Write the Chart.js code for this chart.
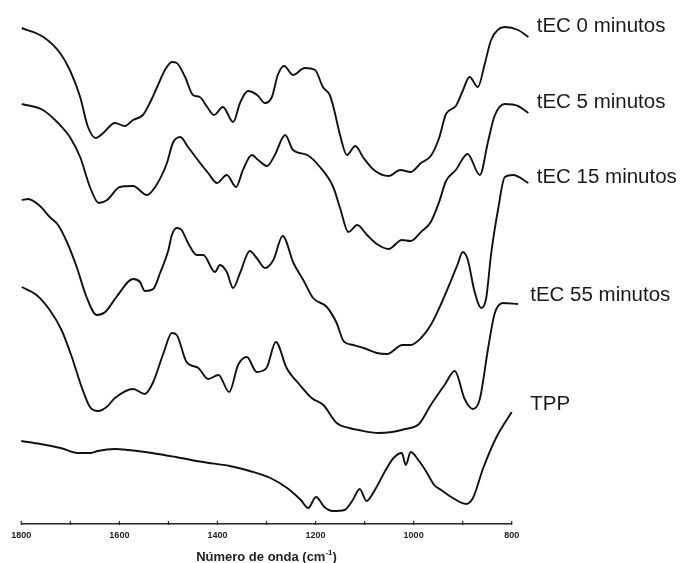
<!DOCTYPE html>
<html>
<head>
<meta charset="utf-8">
<script src="https://cdn.jsdelivr.net/npm/chart.js@4"></script>
<style>
  body { margin: 0; background: #fff; }
  canvas { display: block; }
</style>
</head>
<body>
<canvas id="espectros-ftir" width="683" height="563"></canvas>
<script>
// numero de onda (cm-1) e transmitancia (u.a., curvas deslocadas)
const onda0 = [1799, 1755, 1721, 1701, 1680, 1664, 1648, 1633, 1609, 1589, 1572, 1552, 1538, 1523, 1507, 1493, 1483, 1466, 1450, 1436, 1421, 1407, 1389, 1368, 1354, 1338, 1319, 1303, 1289, 1277, 1264, 1246, 1222, 1201, 1185, 1171, 1162, 1150, 1136, 1119, 1102, 1081, 1051, 1027, 1006, 985, 965, 948, 934, 914, 900, 886, 869, 855, 842, 814, 787, 766];
const tec0 = [496, 487, 471, 454, 427, 397, 386, 391, 401, 398, 404, 409, 421, 437, 454, 462, 461, 447, 429, 427, 417, 409, 417, 402, 421, 433, 429, 421, 427, 449, 458, 449, 456, 454, 437, 429, 414, 389, 369, 378, 366, 354, 348, 354, 352, 361, 368, 386, 410, 418, 433, 447, 437, 460, 484, 497, 494, 487];

const onda5 = [1799, 1756, 1725, 1701, 1680, 1660, 1642, 1625, 1599, 1572, 1544, 1527, 1503, 1491, 1476, 1460, 1440, 1419, 1401, 1381, 1362, 1348, 1330, 1317, 1299, 1283, 1262, 1246, 1217, 1191, 1164, 1150, 1133, 1115, 1095, 1075, 1051, 1024, 1006, 985, 965, 948, 934, 914, 890, 865, 848, 835, 814, 787, 766];
const tec5 = [420, 414, 401, 387, 367, 337, 321, 324, 337, 338, 329, 337, 361, 381, 387, 377, 364, 351, 341, 349, 337, 354, 369, 364, 358, 369, 389, 374, 369, 357, 337, 316, 292, 299, 289, 280, 275, 284, 283, 292, 302, 322, 343, 354, 370, 349, 383, 408, 420, 418, 411];

const onda15 = [1799, 1786, 1762, 1742, 1725, 1707, 1687, 1667, 1646, 1629, 1606, 1572, 1558, 1548, 1531, 1517, 1500, 1493, 1483, 1473, 1460, 1442, 1429, 1405, 1395, 1381, 1368, 1354, 1334, 1320, 1303, 1286, 1267, 1245, 1225, 1205, 1177, 1157, 1143, 1123, 1102, 1075, 1054, 1023, 1006, 985, 965, 944, 924, 910, 900, 890, 876, 862, 852, 842, 828, 814, 797, 766];
const tec15 = [324, 325, 318, 307, 299, 282, 257, 227, 209, 212, 227, 245, 242, 233, 235, 251, 274, 289, 296, 294, 281, 269, 269, 252, 259, 252, 236, 251, 273, 266, 256, 264, 288, 261, 244, 226, 217, 201, 183, 179, 176, 171, 170, 179, 179, 186, 199, 220, 243, 260, 272, 265, 233, 216, 226, 270, 314, 347, 349, 341];

const onda55 = [1799, 1769, 1742, 1718, 1697, 1677, 1660, 1643, 1626, 1609, 1572, 1548, 1531, 1510, 1493, 1483, 1463, 1439, 1419, 1398, 1376, 1358, 1340, 1320, 1300, 1281, 1259, 1232, 1208, 1184, 1157, 1131, 1113, 1072, 1044, 1017, 989, 965, 937, 916, 896, 879, 865, 848, 835, 818, 787];
const tec55 = [237, 229, 214, 194, 167, 137, 117, 113, 117, 126, 135, 130, 142, 171, 191, 189, 162, 156, 145, 149, 132, 159, 167, 152, 156, 182, 156, 139, 126, 119, 101, 96, 94, 91, 92, 95, 100, 119, 139, 153, 125, 115, 125, 176, 210, 221, 220];

const ondaTPP = [1800, 1761, 1720, 1685, 1658, 1644, 1609, 1582, 1534, 1485, 1430, 1375, 1334, 1292, 1258, 1230, 1215, 1199, 1182, 1165, 1141, 1124, 1110, 1096, 1079, 1058, 1041, 1024, 1016, 1006, 989, 975, 958, 944, 920, 893, 879, 858, 831, 800];
const tpp = [83, 80, 76, 71, 71, 73, 75, 74, 71, 67, 62, 58, 53, 46, 36, 24, 16, 27, 17, 13, 14, 24, 35, 23, 34, 53, 66, 71, 59, 72, 63, 53, 39, 34, 26, 20, 26, 56, 87, 112];

const nomes = ['tEC 0 minutos', 'tEC 5 minutos', 'tEC 15 minutos', 'tEC 55 minutos', 'TPP'];
const ticksX = [1800, 1600, 1400, 1200, 1000, 800];

const series = [[onda0, tec0], [onda5, tec5], [onda15, tec15], [onda55, tec55], [ondaTPP, tpp]];

// posicao dos rotulos a direita (dx a partir do fim do eixo, linha de base)
const rotulos = [
    { dx: 25, y: 32 },
    { dx: 25, y: 107.5 },
    { dx: 25, y: 183 },
    { dx: 18.5, y: 301 },
    { dx: 18.5, y: 410 }
];

const fonte = '"Liberation Sans", Arial, sans-serif';

const ctx = document.getElementById('espectros-ftir');

new Chart(ctx, {
    type: 'line',
    data: {
        datasets: series.map(([onda, valores], i) => ({
            label: nomes[i],
            data: onda.map((x, j) => ({ x: x, y: valores[j] })),
            borderColor: '#111111',
            borderWidth: 1.9,
            pointRadius: 0,
            fill: false,
            clip: false,
            cubicInterpolationMode: 'monotone'
        }))
    },
    options: {
        responsive: false,
        animation: false,
        layout: {
            padding: { left: 21.3, right: 171.3, top: 0, bottom: 0 }
        },
        plugins: {
            legend: { display: false },
            tooltip: { enabled: false }
        },
        scales: {
            x: {
                type: 'linear',
                reverse: true,
                min: 800,
                max: 1800,
                afterFit(scale) { scale.height = 39; },
                afterBuildTicks(scale) {
                    scale.ticks = ticksX.map(v => ({ value: v }));
                },
                grid: { display: false, drawTicks: false },
                border: { display: true, color: '#222', width: 1.5 },
                ticks: {
                    color: '#222',
                    padding: 6,
                    maxRotation: 0,
                    autoSkip: false,
                    callback: value => String(value),
                    font: { family: fonte, size: 9, weight: 'bold' }
                }
            },
            y: {
                display: false,
                min: 0,
                max: 524
            }
        }
    },
    plugins: [{
        id: 'extras',
        afterDraw(chart) {
            const { ctx, chartArea, scales } = chart;
            const base = chartArea.bottom;

            ctx.save();

            // marcas do eixo a cada 100
            ctx.strokeStyle = '#222';
            ctx.lineWidth = 1.2;
            for (let v = 800; v <= 1800; v += 100) {
                const px = scales.x.getPixelForValue(v);
                ctx.beginPath();
                ctx.moveTo(px, base - 3);
                ctx.lineTo(px, base + 1);
                ctx.stroke();
            }

            // titulo do eixo com expoente
            ctx.fillStyle = '#222';
            ctx.textBaseline = 'alphabetic';
            ctx.textAlign = 'left';
            const t1 = 'Número de onda (cm';
            const sup = '-1';
            const t2 = ')';
            ctx.font = 'bold 13px ' + fonte;
            const w1 = ctx.measureText(t1).width;
            const w3 = ctx.measureText(t2).width;
            ctx.font = 'bold 8px ' + fonte;
            const w2 = ctx.measureText(sup).width;
            const cx = (chartArea.left + chartArea.right) / 2;
            let xx = cx - (w1 + w2 + w3) / 2;
            const yy = 561;
            ctx.font = 'bold 13px ' + fonte;
            ctx.fillText(t1, xx, yy);
            xx += w1;
            ctx.font = 'bold 8px ' + fonte;
            ctx.fillText(sup, xx, yy - 6);
            xx += w2;
            ctx.font = 'bold 13px ' + fonte;
            ctx.fillText(t2, xx, yy);

            // nomes das curvas
            ctx.font = '20.5px ' + fonte;
            ctx.fillStyle = '#1a1a1a';
            rotulos.forEach((r, i) => {
                ctx.fillText(nomes[i], chartArea.right + r.dx, r.y);
            });

            ctx.restore();
        }
    }]
});
</script>
</body>
</html>
